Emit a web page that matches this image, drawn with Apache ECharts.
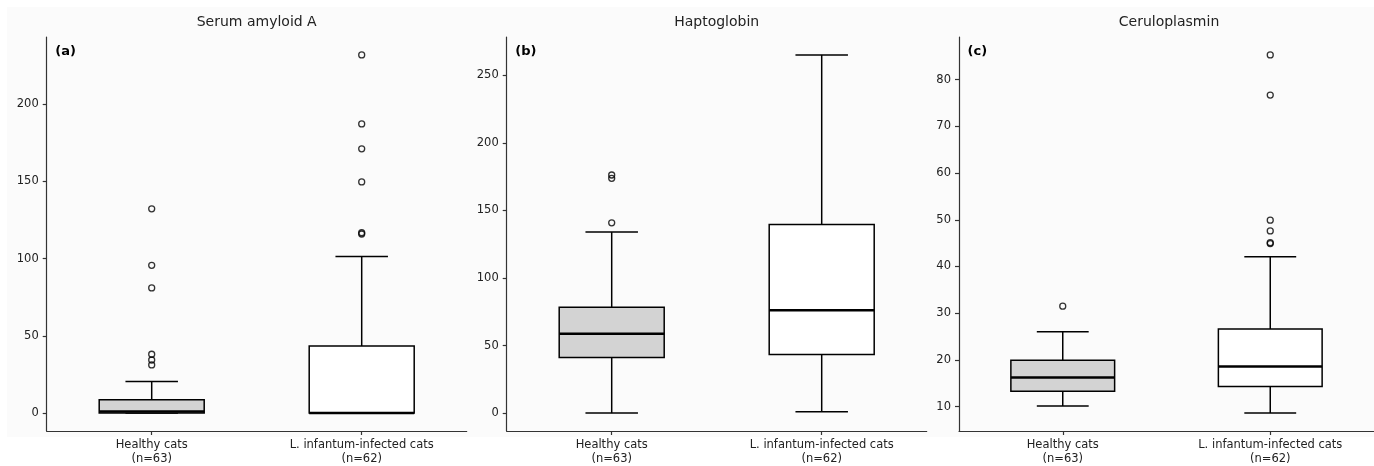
<!DOCTYPE html>
<html>
<head>
<meta charset="utf-8">
<script src="https://cdn.jsdelivr.net/npm/echarts@6/dist/echarts.min.js"></script>
<style>
html,body{margin:0;padding:0;background:#fff;}
#chart{width:1374px;height:466px;}
</style>
</head>
<body>
<div id="chart"></div>
<script>
// ---- data ----
const categories = ['Healthy cats\n(n=63)', 'L. infantum-infected cats\n(n=62)'];
const panelTitles = ['Serum amyloid A', 'Haptoglobin', 'Ceruloplasmin'];
const panelLabels = ['(a)', '(b)', '(c)'];

// [min whisker, Q1, median, Q3, max whisker]
const saaHealthy = [0, 0, 1.0, 8.6, 20.4];
const saaInfected = [0, 0, 0, 43.4, 101.5];
const saaHealthyOut = [31.2, 34.4, 38.1, 81.1, 95.7, 132.3];
const saaInfectedOut = [116.0, 116.8, 149.7, 171.2, 187.3, 232.0];

const hpHealthy = [0, 41.1, 58.8, 78.4, 134.0];
const hpInfected = [1.0, 43.3, 76.2, 139.6, 265.2];
const hpHealthyOut = [140.9, 173.8, 176.3];
const hpInfectedOut = [];

const cpHealthy = [10.1, 13.3, 16.2, 19.9, 26.0];
const cpInfected = [8.6, 14.3, 18.6, 26.6, 42.1];
const cpHealthyOut = [31.5];
const cpInfectedOut = [44.9, 45.1, 47.6, 49.9, 76.7, 85.3];

const saaTicks = [0, 50, 100, 150, 200];
const hpTicks = [0, 50, 100, 150, 200, 250];
const cpTicks = [10, 20, 30, 40, 50, 60, 70, 80];

// ---- layout/style ----
const FONT = '"DejaVu Sans", "Liberation Sans", sans-serif';
const boxFills = ['#d3d3d3', '#ffffff'];
const gridLefts = [46.7, 506.7, 959];
const GRID_W = 420, GRID_TOP = 37, GRID_H = 396;

const panels = [
  {stats: [saaHealthy, saaInfected], outs: [saaHealthyOut, saaInfectedOut], ticks: saaTicks},
  {stats: [hpHealthy, hpInfected], outs: [hpHealthyOut, hpInfectedOut], ticks: hpTicks},
  {stats: [cpHealthy, cpInfected], outs: [cpHealthyOut, cpInfectedOut], ticks: cpTicks}
];

function extent(p) {
  let lo = Infinity, hi = -Infinity;
  p.stats.forEach(s => s.forEach(v => { lo = Math.min(lo, v); hi = Math.max(hi, v); }));
  p.outs.forEach(o => o.forEach(v => { lo = Math.min(lo, v); hi = Math.max(hi, v); }));
  const m = (hi - lo) * 0.05;
  return [lo - m, hi + m];
}

function renderBox(params, api) {
  const x = api.value(0);
  const band = api.size([1, 0])[0];
  const bw = band * 0.5, cw = band * 0.25;
  const pMin = api.coord([x, api.value(1)]);
  const pQ1 = api.coord([x, api.value(2)]);
  const pMd = api.coord([x, api.value(3)]);
  const pQ3 = api.coord([x, api.value(4)]);
  const pMax = api.coord([x, api.value(5)]);
  const cx = pMin[0];
  const ls = {stroke: '#000', lineWidth: 1.5};
  return {
    type: 'group',
    children: [
      {type: 'line', shape: {x1: cx, y1: pMin[1], x2: cx, y2: pQ1[1]}, style: ls},
      {type: 'line', shape: {x1: cx, y1: pQ3[1], x2: cx, y2: pMax[1]}, style: ls},
      {type: 'line', shape: {x1: cx - cw / 2, y1: pMin[1], x2: cx + cw / 2, y2: pMin[1]}, style: ls},
      {type: 'line', shape: {x1: cx - cw / 2, y1: pMax[1], x2: cx + cw / 2, y2: pMax[1]}, style: ls},
      {type: 'rect', shape: {x: cx - bw / 2, y: pQ3[1], width: bw, height: pQ1[1] - pQ3[1]},
        style: {fill: boxFills[x], stroke: '#000', lineWidth: 1.5}},
      {type: 'line', shape: {x1: cx - bw / 2, y1: pMd[1], x2: cx + bw / 2, y2: pMd[1]},
        style: {stroke: '#000', lineWidth: 2.5}}
    ]
  };
}

const grids = [], xAxes = [], yAxes = [], series = [], graphics = [];

graphics.push({type: 'rect', z: -10, silent: true,
  shape: {x: 7, y: 7, width: 1367, height: 430}, style: {fill: '#fbfbfb'}});

panels.forEach((p, i) => {
  const ext = extent(p);
  grids.push({left: gridLefts[i], top: GRID_TOP, width: GRID_W, height: GRID_H, containLabel: false});
  xAxes.push({
    type: 'category', gridIndex: i, data: categories, boundaryGap: true,
    axisLine: {show: true, onZero: false, lineStyle: {color: '#333', width: 1.2}},
    axisTick: {show: true, alignWithLabel: true, length: 4, lineStyle: {color: '#333', width: 1.2}},
    axisLabel: {color: '#222', fontFamily: FONT, fontSize: 11.5, lineHeight: 14, margin: 7, interval: 0},
    splitLine: {show: false}
  });
  yAxes.push({
    type: 'value', gridIndex: i, min: ext[0], max: ext[1],
    axisLine: {show: true, lineStyle: {color: '#333', width: 1.2}},
    axisTick: {show: true, length: 4, customValues: p.ticks, lineStyle: {color: '#333', width: 1.2}},
    axisLabel: {color: '#222', fontFamily: FONT, fontSize: 11.5, margin: 8, customValues: p.ticks},
    splitLine: {show: false}
  });
  series.push({
    type: 'custom', xAxisIndex: i, yAxisIndex: i, renderItem: renderBox,
    encode: {x: 0, y: [1, 2, 3, 4, 5]},
    data: p.stats.map((s, k) => [k].concat(s)), z: 2
  });
  const outData = [];
  p.outs.forEach((o, k) => o.forEach(v => outData.push([k, v])));
  series.push({
    type: 'scatter', xAxisIndex: i, yAxisIndex: i, data: outData,
    symbol: 'circle', symbolSize: 6, z: 3,
    itemStyle: {color: 'rgba(255,255,255,0)', borderColor: '#000', borderWidth: 1.3}
  });
  graphics.push({type: 'text', x: gridLefts[i] + GRID_W / 2, y: 22.7,
    style: {text: panelTitles[i], font: '14px ' + FONT, fill: '#222',
      align: 'center', verticalAlign: 'middle', textAlign: 'center', textVerticalAlign: 'middle'}});
  graphics.push({type: 'text', x: gridLefts[i] + 8.5, y: 51.7,
    style: {text: panelLabels[i], font: 'bold 13px ' + FONT, fill: '#000',
      align: 'left', verticalAlign: 'middle', textAlign: 'left', textVerticalAlign: 'middle'}});
});

const chart = echarts.init(document.getElementById('chart'), null, {renderer: 'canvas'});
chart.setOption({
  animation: false,
  backgroundColor: '#ffffff',
  grid: grids, xAxis: xAxes, yAxis: yAxes, series: series, graphic: graphics
});
</script>
</body>
</html>
